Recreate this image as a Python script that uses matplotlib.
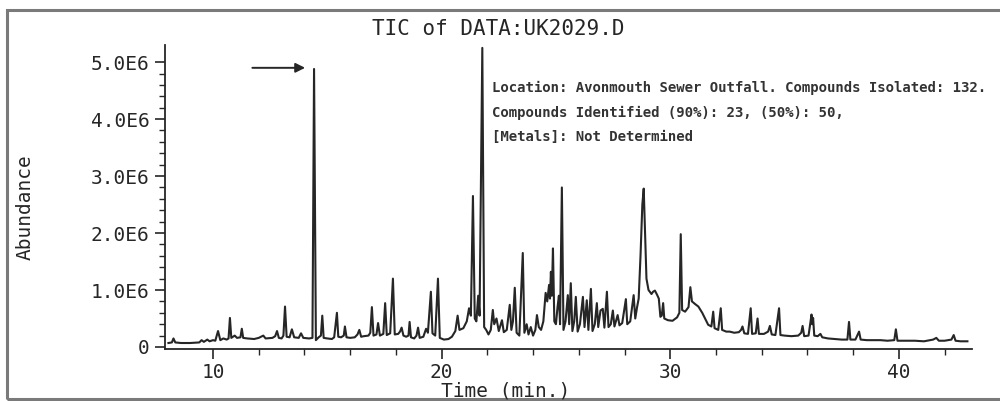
import numpy as np
import matplotlib
matplotlib.use("Agg")
import matplotlib.pyplot as plt
from matplotlib.patches import Rectangle

# trace vertices: time (min) and abundance (millions)
time_min = [
    8.05, 8.2, 8.27, 8.35, 8.6, 9.0, 9.4, 9.5, 9.6, 9.75, 9.85, 10.0, 10.1, 10.22, 10.32,
    10.45, 10.6, 10.68, 10.74, 10.8, 10.95, 11.05, 11.2, 11.26, 11.32, 11.5, 11.8, 12.0,
    12.2, 12.3, 12.6, 12.72, 12.8, 12.88, 13.0, 13.08, 13.15, 13.22, 13.35, 13.45, 13.55,
    13.75, 13.85, 13.95, 14.2, 14.35, 14.42, 14.5, 14.62, 14.72, 14.78, 14.84, 15.0, 15.2,
    15.3, 15.42, 15.48, 15.6, 15.72, 15.77, 15.84, 16.0, 16.2, 16.32, 16.4, 16.48, 16.6,
    16.8, 16.88, 16.95, 17.02, 17.15, 17.22, 17.3, 17.45, 17.53, 17.6, 17.75, 17.87, 17.95,
    18.1, 18.18, 18.25, 18.33, 18.45, 18.55, 18.6, 18.66, 18.8, 18.9, 18.97, 19.04, 19.2,
    19.32, 19.4, 19.53, 19.6, 19.72, 19.84, 19.92, 20.1, 20.3, 20.45, 20.6, 20.7, 20.78,
    20.95, 21.1, 21.2, 21.28, 21.37, 21.45, 21.52, 21.6, 21.66, 21.78, 21.86, 21.95, 22.05,
    22.15, 22.24, 22.3, 22.4, 22.5, 22.64, 22.72, 22.85, 22.98, 23.05, 23.12, 23.2, 23.28,
    23.4, 23.55, 23.62, 23.72, 23.8, 23.9, 24.0, 24.1, 24.17, 24.25, 24.35, 24.45, 24.55,
    24.62, 24.7, 24.74, 24.78, 24.82, 24.87, 24.93, 25.0, 25.07, 25.13, 25.18, 25.26, 25.33,
    25.42, 25.52, 25.58, 25.65, 25.72, 25.8, 25.87, 25.95, 26.05, 26.18, 26.25, 26.35,
    26.42, 26.53, 26.6, 26.7, 26.79, 26.85, 26.95, 27.05, 27.12, 27.23, 27.3, 27.4, 27.49,
    27.56, 27.7, 27.78, 27.9, 28.06, 28.12, 28.25, 28.4, 28.47, 28.55, 28.62, 28.7, 28.78,
    28.84, 28.9, 28.96, 29.05, 29.18, 29.25, 29.33, 29.42, 29.5, 29.57, 29.63, 29.69, 29.74,
    29.9, 30.1, 30.3, 30.4, 30.46, 30.52, 30.65, 30.8, 30.88, 30.95, 31.1, 31.23, 31.4,
    31.55, 31.66, 31.8, 31.88, 31.94, 32.1, 32.21, 32.27, 32.45, 32.6, 32.8, 33.0, 33.1,
    33.16, 33.24, 33.4, 33.52, 33.58, 33.74, 33.82, 33.88, 34.1, 34.28, 34.36, 34.44, 34.6,
    34.76, 34.82, 35.0, 35.3, 35.6, 35.73, 35.79, 35.86, 36.05, 36.18, 36.21, 36.25, 36.3,
    36.45, 36.57, 36.65, 36.9, 37.2, 37.5, 37.75, 37.82, 37.88, 38.1, 38.26, 38.33, 38.6,
    38.9, 39.2, 39.5, 39.8, 39.87, 39.94, 40.3, 40.7, 41.1, 41.5, 41.64, 41.75, 42.0, 42.3,
    42.4, 42.48, 42.7, 43.0,
]
abundance_e6 = [
    0.07, 0.08, 0.15, 0.08, 0.07, 0.07, 0.08, 0.12, 0.09, 0.13, 0.10, 0.12, 0.11, 0.28, 0.12,
    0.15, 0.13, 0.15, 0.51, 0.16, 0.20, 0.16, 0.17, 0.32, 0.16, 0.15, 0.14, 0.16,
    0.20, 0.15, 0.16, 0.19, 0.28, 0.16, 0.15, 0.20, 0.71, 0.18, 0.17, 0.31, 0.17,
    0.16, 0.24, 0.16, 0.15, 0.16, 4.88, 0.12, 0.17, 0.20, 0.55, 0.16, 0.15, 0.14,
    0.17, 0.60, 0.18, 0.17, 0.20, 0.36, 0.17, 0.16, 0.17, 0.22, 0.30, 0.18, 0.19,
    0.20, 0.25, 0.70, 0.20, 0.22, 0.42, 0.20, 0.23, 0.77, 0.21, 0.24, 1.20, 0.22,
    0.23, 0.27, 0.34, 0.20, 0.18, 0.20, 0.44, 0.17, 0.15, 0.20, 0.34, 0.16, 0.18,
    0.32, 0.25, 0.97, 0.24, 0.20, 1.20, 0.16, 0.13, 0.14, 0.18, 0.28, 0.55, 0.30,
    0.33, 0.45, 0.68, 0.55, 2.65, 0.50, 0.45, 0.90, 0.55, 5.25, 0.35, 0.30, 0.22,
    0.30, 0.65, 0.40, 0.50, 0.28, 0.47, 0.26, 0.30, 0.74, 0.30, 0.45, 1.04, 0.25,
    0.20, 1.65, 0.25, 0.40, 0.22, 0.35, 0.20, 0.30, 0.56, 0.35, 0.30, 0.45, 0.95,
    0.80, 1.09, 0.85, 1.32, 0.90, 1.73, 0.45, 0.40, 0.70, 0.90, 0.40, 2.80, 0.30,
    0.45, 0.91, 0.40, 1.12, 0.28, 0.45, 0.88, 0.27, 0.40, 0.88, 0.35, 0.82,
    0.30, 1.02, 0.28, 0.40, 0.77, 0.35, 0.64, 0.67, 0.34, 0.97, 0.35, 0.40, 0.64,
    0.36, 0.56, 0.38, 0.42, 0.84, 0.40, 0.45, 0.91, 0.50, 0.70, 0.85, 1.60, 2.50,
    2.78, 2.00, 1.20, 1.00, 0.93, 0.97, 0.99, 0.92, 0.85, 0.53, 0.55, 0.77, 0.50,
    0.47, 0.46, 0.52, 0.60, 1.98, 0.65, 0.62, 0.70, 1.05, 0.80, 0.75, 0.71, 0.60,
    0.48, 0.39, 0.36, 0.62, 0.33, 0.30, 0.68, 0.30, 0.27, 0.27, 0.25, 0.26, 0.30,
    0.36, 0.24, 0.23, 0.68, 0.23, 0.24, 0.50, 0.23, 0.23, 0.27, 0.37, 0.22, 0.21,
    0.68, 0.21, 0.20, 0.19, 0.20, 0.25, 0.37, 0.19, 0.20, 0.57, 0.40, 0.51, 0.20,
    0.19, 0.23, 0.17, 0.15, 0.14, 0.13, 0.13, 0.44, 0.13, 0.13, 0.27, 0.13, 0.12,
    0.12, 0.12, 0.11, 0.12, 0.31, 0.11, 0.11, 0.11, 0.10, 0.13, 0.16, 0.11, 0.11, 0.13,
    0.21, 0.11, 0.10, 0.10,
]

y_ticks = [0, 1, 2, 3, 4, 5]
y_tick_labels = ["0", "1.0E6", "2.0E6", "3.0E6", "4.0E6", "5.0E6"]
x_ticks = [10, 20, 30, 40]
note_lines = [
    "Location: Avonmouth Sewer Outfall. Compounds Isolated: 132.",
    "Compounds Identified (90%): 23, (50%): 50,",
    "[Metals]: Not Determined",
]
arrow_tip = (14.15, 4.9)
arrow_tail = (11.6, 4.9)

ink = "#262626"
mono = "DejaVu Sans Mono"

fig = plt.figure(figsize=(10, 4.01), dpi=100)
fig.patch.set_facecolor("white")

# outer frame of the printout
fig.patches.append(Rectangle((0.007, 0.006), 1.05, 0.969, transform=fig.transFigure,
                             fill=False, edgecolor="#7a7a7a", linewidth=2.2))

ax = fig.add_axes([0.165, 0.1297, 0.807, 0.758])
ax.plot(time_min, abundance_e6, color=ink, linewidth=1.5)

ax.set_xlim(7.9, 43.2)
ax.set_ylim(-0.035, 5.3)
for s in ["top", "right"]:
    ax.spines[s].set_visible(False)
for s in ["left", "bottom"]:
    ax.spines[s].set_color(ink)
    ax.spines[s].set_linewidth(1.3)

ax.set_xticks(x_ticks)
ax.set_xticks(np.arange(12, 43, 2), minor=True)
ax.set_yticks(y_ticks)
ax.set_yticklabels(y_tick_labels)
ax.set_yticks(np.arange(0, 5.01, 0.2), minor=True)
ax.tick_params(which="major", direction="out", length=7, width=1.2, color=ink,
               labelsize=14, labelcolor=ink)
ax.tick_params(which="minor", direction="out", length=4, width=1.0, color=ink)
ax.tick_params(axis="x", pad=3)
ax.tick_params(axis="y", pad=4)
for lab in ax.get_xticklabels() + ax.get_yticklabels():
    lab.set_family(mono)

ax.annotate("", xy=arrow_tip, xytext=arrow_tail,
            arrowprops=dict(arrowstyle="-|>", color=ink, lw=1.4, mutation_scale=14))

fig.text(0.498, 1 - 29 / 401, "TIC of DATA:UK2029.D", ha="center", va="center",
         family=mono, fontsize=15, color=ink)
fig.text(0.506, 1 - 391 / 401, "Time (min.)", ha="center", va="center",
         family=mono, fontsize=14, color=ink)
fig.text(0.025, 1 - 207 / 401, "Abundance", ha="center", va="center", rotation=90,
         family=mono, fontsize=14, color=ink)

for i, line in enumerate(note_lines):
    fig.text(0.492, 1 - (92 + 24.5 * i) / 401, line, ha="left", va="baseline",
             family=mono, fontsize=10.1, fontweight="bold", color="#333333")

fig.savefig("out.png", dpi=100, facecolor="white")
